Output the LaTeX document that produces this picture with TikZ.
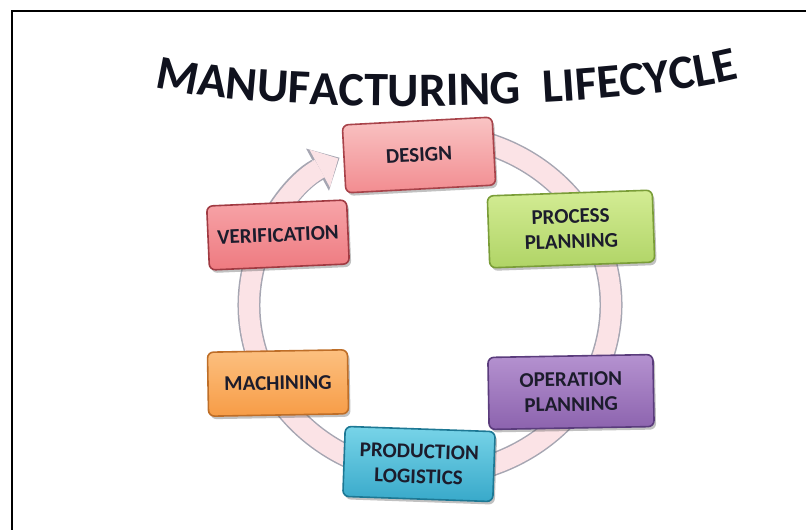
\documentclass[tikz,border=0pt]{standalone}
\usepackage{fontspec}
\setmainfont{Carlito}
\newfontfamily\titlefont{Carlito}
\usetikzlibrary{arrows.meta,shadows,decorations.text}
\definecolor{titlec}{HTML}{10121E}
\definecolor{txtc}{HTML}{1C1C2C}
\definecolor{ringfill}{HTML}{FBE3E6}
\definecolor{ringedge}{HTML}{A6A6B2}
\definecolor{desT}{HTML}{F9C4C4}\definecolor{desB}{HTML}{F28C90}\definecolor{desD}{HTML}{A8434A}
\definecolor{verT}{HTML}{F7A4A8}\definecolor{verB}{HTML}{EE7A80}\definecolor{verD}{HTML}{A03A42}
\definecolor{proT}{HTML}{D3EC94}\definecolor{proB}{HTML}{B0D466}\definecolor{proD}{HTML}{7A9D38}
\definecolor{macT}{HTML}{FCC080}\definecolor{macB}{HTML}{F79C46}\definecolor{macD}{HTML}{BE6E28}
\definecolor{opeT}{HTML}{B592D0}\definecolor{opeB}{HTML}{8C63AE}\definecolor{opeD}{HTML}{5A3C7C}
\definecolor{pdlT}{HTML}{78D4E8}\definecolor{pdlB}{HTML}{38A9CA}\definecolor{pdlD}{HTML}{1D7894}
\tikzset{
  stagebox/.style={rounded corners=6pt, align=center, text=txtc,
    font=\bfseries\fontsize{21}{25}\selectfont, line width=1.6pt,
    drop shadow={shadow xshift=2pt, shadow yshift=-3pt, opacity=.35, fill=black!70}},
  frameline/.style={line width=2.6pt, black}
}
\begin{document}
\begin{tikzpicture}[x=1pt,y=1pt]
\useasboundingbox (0,0) rectangle (806,530);
% frame
\coordinate (fBL) at (12,0);
\coordinate (fTL) at (12,519);
\coordinate (fTR) at (806,519);
\draw[frameline] (fBL) -- (fTL) -- (fTR);
% title
\coordinate (tA) at (154,444);
\coordinate (tC1) at (250,416);
\coordinate (tC2) at (600,416);
\coordinate (tB) at (740,452);
\path[decorate, decoration={text along path, text align=center,
  text={|\titlefont\bfseries\fontsize{48}{48}\selectfont\color{titlec}|MANUFACTURING{ }{ }LIFECYCLE}}]
  (tA) .. controls (tC1) and (tC2) .. (tB);
% ring
\coordinate (rc) at (430,225);
\draw[ringedge, line width=23pt, -{Triangle[width=48pt,length=25pt,line width=0pt]}]
  (rc) ++(80:181pt and 170pt) arc[start angle=80, end angle=-240, x radius=181pt, y radius=170pt];
\draw[ringfill, line width=20pt, shorten >=1.5pt, -{Triangle[width=43pt,length=21pt,line width=0pt]}]
  (rc) ++(80:181pt and 170pt) arc[start angle=80, end angle=-240, x radius=181pt, y radius=170pt];
% boxes
\node[stagebox, draw=desD, top color=desT, bottom color=desB, minimum width=150pt, minimum height=68pt, rotate=3]
  (design) at (419,375) {DESIGN};
\node[stagebox, draw=proD, top color=proT, bottom color=proB, minimum width=165pt, minimum height=72pt, rotate=2]
  (process) at (571,301) {PROCESS\\PLANNING};
\node[stagebox, draw=verD, top color=verT, bottom color=verB, minimum width=140pt, minimum height=64pt, rotate=2.5]
  (verif) at (278,295) {VERIFICATION};
\node[stagebox, draw=macD, top color=macT, bottom color=macB, minimum width=140pt, minimum height=64pt, rotate=1]
  (mach) at (278,147) {MACHINING};
\node[stagebox, draw=opeD, top color=opeT, bottom color=opeB, minimum width=165pt, minimum height=72pt, rotate=1]
  (oper) at (571,138) {OPERATION\\PLANNING};
\node[stagebox, draw=pdlD, top color=pdlT, bottom color=pdlB, minimum width=150pt, minimum height=70pt, rotate=-2]
  (prod) at (419,66) {PRODUCTION\\LOGISTICS};
\end{tikzpicture}
\end{document}
